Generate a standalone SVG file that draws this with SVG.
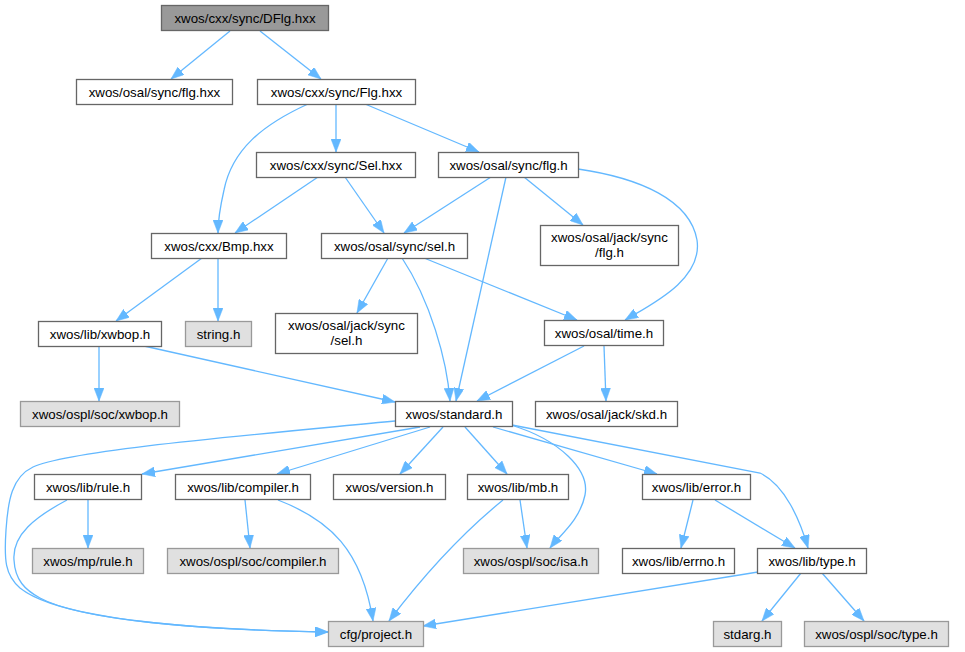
<svg xmlns="http://www.w3.org/2000/svg" width="965" height="652" viewBox="0 0 965 652">
<defs>
<style>
.n rect{fill:#ffffff;stroke:#666666;stroke-width:1.3}
.g rect{fill:#e0e0e0;stroke:#999999;stroke-width:1.3}
.r rect{fill:#999999;stroke:#666666;stroke-width:1.3}
text{font-family:"Liberation Sans",Arial,sans-serif;font-size:13.3px;fill:#000000;text-anchor:middle}
#edges path{fill:none;stroke:#63b8ff;stroke-width:1.3;marker-end:url(#arr)}
</style>
<marker id="arr" markerUnits="userSpaceOnUse" markerWidth="13" markerHeight="10" refX="13" refY="5" orient="auto">
<path d="M0,0 L13,5 L0,10 z" fill="#63b8ff" stroke="#63b8ff" stroke-width="0.5"/>
</marker>
</defs>
<rect width="965" height="652" fill="#ffffff"/>
<g id="edges">
<path d="M230,31 L171,79"/>
<path d="M260,31 L321,79"/>
<path d="M308,104 C262,125 232,150 224,190 C219,212 218,225 218,233"/>
<path d="M336,104 L336,152"/>
<path d="M365,104 L479,152"/>
<path d="M318,177 L235,233"/>
<path d="M345,177 L384,233"/>
<path d="M491,177 L404,233"/>
<path d="M506,177 L456,401"/>
<path d="M524,177 L583,225"/>
<path d="M578,169 C640,178 690,200 697,240 C703,280 650,305 625,320"/>
<path d="M202,258 L116,321"/>
<path d="M218,258 L218,321"/>
<path d="M388,258 L357,313"/>
<path d="M402,258 C430,300 447,360 450,401"/>
<path d="M424,258 L577,320"/>
<path d="M99,346 L99,401"/>
<path d="M144,346 L395,402"/>
<path d="M584,346 L477,401"/>
<path d="M604,346 L606,401"/>
<path d="M395,421 C250,435 70,450 33,467 C12,477 8,500 6,530 C4,560 5,575 20,588 C60,620 200,630 328,632"/>
<path d="M420,427 L142,474"/>
<path d="M430,427 L277,474"/>
<path d="M443,427 L400,474"/>
<path d="M465,427 L507,474"/>
<path d="M511,425 C560,440 590,470 585,495 C580,520 560,535 550,548"/>
<path d="M493,427 L657,474"/>
<path d="M512,425 L760,473 C785,485 800,520 808,548"/>
<path d="M88,500 L88,548"/>
<path d="M67,500 C35,517 12,535 14,560 C15,580 25,590 40,598 C80,620 200,630 328,632"/>
<path d="M245,500 L250,548"/>
<path d="M278,500 C330,520 362,550 373,621"/>
<path d="M520,500 L527,548"/>
<path d="M503,500 C460,535 420,580 389,621"/>
<path d="M693,500 L681,548"/>
<path d="M715,500 L795,548"/>
<path d="M758,572 L423,626"/>
<path d="M801,573 L762,621"/>
<path d="M822,573 L864,621"/>
</g>
<g id="n_dflg" class="r"><rect x="161.5" y="5.5" width="167" height="25"/><text x="245" y="22.7">xwos/cxx/sync/DFlg.hxx</text></g>
<g id="n_osal_flg_hxx" class="n"><rect x="76.5" y="79.5" width="156" height="25"/><text x="154.5" y="96.5">xwos/osal/sync/flg.hxx</text></g>
<g id="n_cxx_flg_hxx" class="n"><rect x="257.5" y="79.5" width="158" height="25"/><text x="336.5" y="96.5">xwos/cxx/sync/Flg.hxx</text></g>
<g id="n_cxx_sel_hxx" class="n"><rect x="256.5" y="152.5" width="159" height="25"/><text x="336" y="169.5">xwos/cxx/sync/Sel.hxx</text></g>
<g id="n_osal_flg_h" class="n"><rect x="438.5" y="152.5" width="140" height="25"/><text x="508.5" y="169.5">xwos/osal/sync/flg.h</text></g>
<g id="n_bmp" class="n"><rect x="151.5" y="233.5" width="135" height="25"/><text x="219" y="250.5">xwos/cxx/Bmp.hxx</text></g>
<g id="n_osal_sel_h" class="n"><rect x="321.5" y="233.5" width="146" height="25"/><text x="394.5" y="250.5">xwos/osal/sync/sel.h</text></g>
<g id="n_jack_flg" class="n"><rect x="540.5" y="225.5" width="138" height="40"/><text x="609.5" y="241.5">xwos/osal/jack/sync</text><text x="609.5" y="256.5">/flg.h</text></g>
<g id="n_xwbop" class="n"><rect x="38.5" y="321.5" width="123" height="25"/><text x="100" y="338.5">xwos/lib/xwbop.h</text></g>
<g id="n_string" class="g"><rect x="185.5" y="321.5" width="66" height="25"/><text x="218.5" y="338.5">string.h</text></g>
<g id="n_jack_sel" class="n"><rect x="275.5" y="313.5" width="142" height="40"/><text x="346.5" y="329.5">xwos/osal/jack/sync</text><text x="346.5" y="344.5">/sel.h</text></g>
<g id="n_time" class="n"><rect x="544.5" y="320.5" width="119" height="25"/><text x="604" y="337.5">xwos/osal/time.h</text></g>
<g id="n_soc_xwbop" class="g"><rect x="20.5" y="401.5" width="159" height="25"/><text x="100" y="418.5">xwos/ospl/soc/xwbop.h</text></g>
<g id="n_standard" class="n"><rect x="395.5" y="401.5" width="117" height="25"/><text x="454" y="418.5">xwos/standard.h</text></g>
<g id="n_skd" class="n"><rect x="535.5" y="401.5" width="142" height="25"/><text x="606.5" y="418.5">xwos/osal/jack/skd.h</text></g>
<g id="n_rule" class="n"><rect x="34.5" y="474.5" width="107" height="25"/><text x="88" y="491.5">xwos/lib/rule.h</text></g>
<g id="n_compiler" class="n"><rect x="175.5" y="474.5" width="135" height="25"/><text x="243" y="491.5">xwos/lib/compiler.h</text></g>
<g id="n_version" class="n"><rect x="333.5" y="474.5" width="112" height="25"/><text x="389.5" y="491.5">xwos/version.h</text></g>
<g id="n_mb" class="n"><rect x="467.5" y="474.5" width="101" height="25"/><text x="518" y="491.5">xwos/lib/mb.h</text></g>
<g id="n_error" class="n"><rect x="642.5" y="474.5" width="108" height="25"/><text x="696.5" y="491.5">xwos/lib/error.h</text></g>
<g id="n_mp_rule" class="g"><rect x="32.5" y="548.5" width="111" height="25"/><text x="88" y="565.5">xwos/mp/rule.h</text></g>
<g id="n_soc_compiler" class="g"><rect x="167.5" y="548.5" width="171" height="25"/><text x="253" y="565.5">xwos/ospl/soc/compiler.h</text></g>
<g id="n_isa" class="g"><rect x="463.5" y="548.5" width="135" height="25"/><text x="531" y="565.5">xwos/ospl/soc/isa.h</text></g>
<g id="n_errno" class="n"><rect x="622.5" y="548.5" width="112" height="25"/><text x="678.5" y="565.5">xwos/lib/errno.h</text></g>
<g id="n_type" class="n"><rect x="757.5" y="548.5" width="109" height="25"/><text x="812" y="565.5">xwos/lib/type.h</text></g>
<g id="n_project" class="g"><rect x="328.5" y="621.5" width="95" height="25"/><text x="376" y="638.5">cfg/project.h</text></g>
<g id="n_stdarg" class="g"><rect x="713.5" y="621.5" width="68" height="25"/><text x="747.5" y="638.5">stdarg.h</text></g>
<g id="n_soc_type" class="g"><rect x="804.5" y="621.5" width="144" height="25"/><text x="876.5" y="638.5">xwos/ospl/soc/type.h</text></g>
</svg>
